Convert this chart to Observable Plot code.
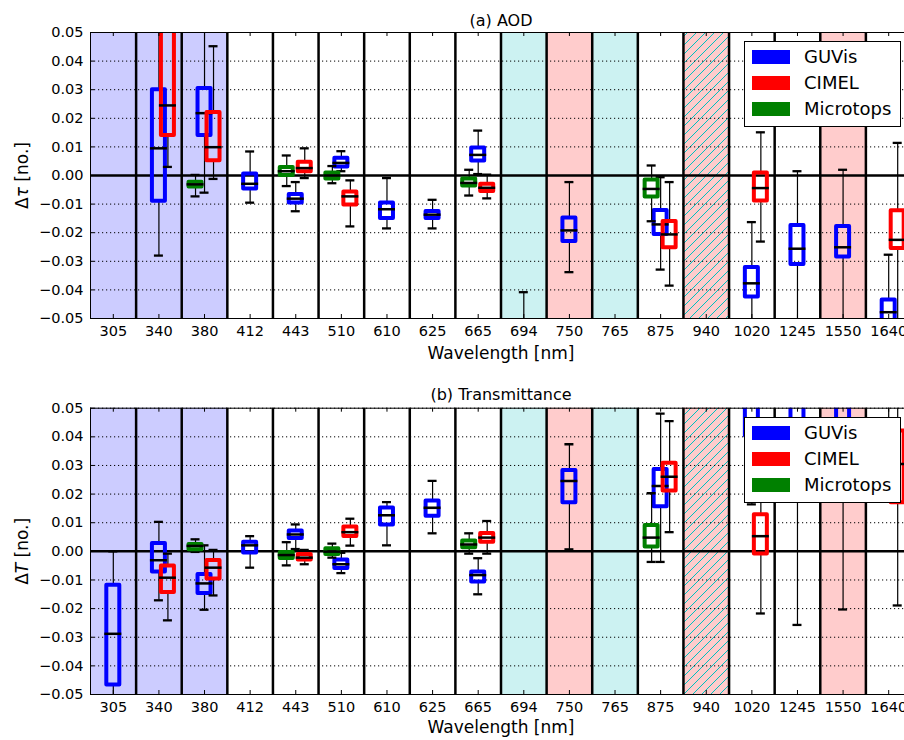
<!DOCTYPE html>
<html><head><meta charset="utf-8">
<script src="https://cdn.jsdelivr.net/npm/d3@7"></script>
<script src="https://cdn.jsdelivr.net/npm/@observablehq/plot@0.6"></script>
<style>
body{margin:0;background:#fff;font-family:"DejaVu Sans",sans-serif;}
#outer{position:relative;width:904px;height:740px;overflow:hidden;background:#fff;}
#inner{position:absolute;left:0;top:0;width:911px;height:740px;}
.panel{position:absolute;left:0;width:911px;}
.legend{position:absolute;left:744px;width:155px;height:84px;background:#fff;border:1px solid #000;font-family:"DejaVu Sans",sans-serif;font-size:18px;color:#000;}
.legend .patch{position:absolute;left:7px;width:38px;height:14px;}
.legend .lab{position:absolute;left:59px;white-space:nowrap;line-height:20px;}
</style></head><body>
<div id="outer"><div id="inner"></div></div>
<script>
// ---------- data ----------
const wavelengths = ["305","340","380","412","443","510","610","625","665","694","750","765","875","940","1020","1245","1550","1640"];
const yTicks = [-0.05,-0.04,-0.03,-0.02,-0.01,0,0.01,0.02,0.03,0.04,0.05];
const instruments = ["GUVis","CIMEL","Microtops"];
const instrumentColors = ["#0000ff","#ff0000","#008000"];
const shadeBlue = ["305","340","380"];
const shadeCyan = ["694","765"];
const shadeRed = ["750","940","1550"];
const hatched = ["940"];

// rows: [wavelength, whiskerLow, q1, median, q3, whiskerHigh]
const aodGUVis = [
  ["340",-0.028,-0.009,0.0095,0.030,0.065],
  ["380",-0.006,0.014,0.0218,0.0304,0.062],
  ["412",-0.0095,-0.0047,-0.0029,0.0005,0.0084],
  ["443",-0.0125,-0.0096,-0.0081,-0.0066,-0.0023],
  ["510",0.0015,0.003,0.0044,0.006,0.0085],
  ["610",-0.0185,-0.015,-0.0118,-0.0096,-0.0009],
  ["625",-0.0185,-0.015,-0.0137,-0.0126,-0.0085],
  ["665",0.0005,0.0051,0.0072,0.0096,0.0157],
  ["694",-0.085,-0.07,-0.062,-0.055,-0.0408],
  ["750",-0.0338,-0.0231,-0.0192,-0.0149,-0.0023],
  ["875",-0.0329,-0.0206,-0.0171,-0.0122,-0.0006],
  ["1020",-0.06,-0.0425,-0.0377,-0.0322,-0.0163],
  ["1245",-0.06,-0.0311,-0.0256,-0.0175,0.0015],
  ["1550",-0.06,-0.0285,-0.0251,-0.0178,0.002],
  ["1640",-0.07,-0.053,-0.0478,-0.0435,-0.0277]
];
const aodCIMEL = [
  ["340",0.003,0.014,0.0245,0.07,0.09],
  ["380",-0.0012,0.0052,0.0099,0.022,0.0452],
  ["443",-0.0009,0.0013,0.0026,0.0046,0.0095],
  ["510",-0.0178,-0.0103,-0.0073,-0.0058,-0.0017],
  ["665",-0.008,-0.0056,-0.0043,-0.0031,0.0003],
  ["875",-0.0385,-0.0253,-0.0206,-0.0161,-0.0023],
  ["1020",-0.0231,-0.0089,-0.0044,0.0009,0.0151],
  ["1640",-0.06,-0.0255,-0.0225,-0.0123,0.0114]
];
const aodMicrotops = [
  ["380",-0.0073,-0.004,-0.0031,-0.0024,0.0002],
  ["443",-0.0037,0.0,0.0015,0.0028,0.007],
  ["510",-0.0027,-0.0012,0.0,0.0009,0.0033],
  ["665",-0.007,-0.0037,-0.0026,-0.0012,0.002],
  ["875",-0.016,-0.0075,-0.0047,-0.0016,0.0035]
];
const trGUVis = [
  ["305",-0.06,-0.0467,-0.0288,-0.0118,0.0],
  ["340",-0.0171,-0.0072,-0.0031,0.0027,0.0103],
  ["380",-0.0204,-0.0147,-0.0112,-0.0081,0.0021],
  ["412",-0.0057,-0.0006,0.0021,0.0032,0.0053],
  ["443",0.0008,0.0045,0.0059,0.0071,0.0094],
  ["510",-0.0076,-0.006,-0.0045,-0.003,-0.0005],
  ["610",0.0021,0.0092,0.0126,0.0151,0.0172],
  ["625",0.0063,0.0123,0.0152,0.0176,0.0246],
  ["665",-0.015,-0.0107,-0.0083,-0.0072,-0.0024],
  ["750",0.0007,0.017,0.0246,0.0282,0.0374],
  ["875",-0.0037,0.0156,0.0228,0.0286,0.0481],
  ["1020",0.0164,0.0403,0.055,0.07,0.09],
  ["1245",-0.0257,0.035,0.052,0.07,0.09],
  ["1550",-0.0203,0.035,0.052,0.07,0.09],
  ["1640",0.03,0.055,0.06,0.07,0.09]
];
const trCIMEL = [
  ["340",-0.0241,-0.0144,-0.0092,-0.0051,-0.0008],
  ["380",-0.0154,-0.0097,-0.0057,-0.0032,0.0005],
  ["443",-0.0045,-0.003,-0.0022,-0.0011,0.0005],
  ["510",0.002,0.0052,0.0067,0.0085,0.0114],
  ["665",-0.0008,0.0032,0.0048,0.0062,0.0106],
  ["875",0.0067,0.0211,0.0261,0.0308,0.0455],
  ["1020",-0.0217,-0.0009,0.0053,0.0128,0.03],
  ["1640",-0.0189,0.017,0.0305,0.042,0.06]
];
const trMicrotops = [
  ["380",-0.0002,0.0006,0.0019,0.0024,0.0042],
  ["443",-0.0049,-0.0025,-0.0013,-0.0004,0.0032],
  ["510",-0.0022,-0.0011,-0.0001,0.0009,0.0027],
  ["665",-0.0008,0.0013,0.0024,0.0036,0.0063],
  ["875",-0.0037,0.0015,0.0048,0.009,0.0203]
];

// ---------- drawing ----------
const W = 911, ML = 90;
const offsets = [0, 9, -9];

function panel(cfg) {
  const bw = (W - ML) / wavelengths.length;
  const innerH = cfg.height - cfg.mt - cfg.mb;
  const boxIn = (bw - 13) / 2, medIn = (bw - 17) / 2, capIn = (bw - 9) / 2;
  const marks = [
    Plot.cell(shadeBlue, {x: d => d, fill: "#ccccff", inset: 0}),
    Plot.cell(shadeCyan, {x: d => d, fill: "#ccf2f2", inset: 0}),
    Plot.cell(shadeRed, {x: d => d, fill: "#ffcccc", inset: 0}),
    Plot.cell(hatched, {x: d => d, fill: `url(#${cfg.id}-hatch)`, inset: 0}),
    Plot.gridY(yTicks.filter(t => t !== 0), {stroke: "#000", strokeOpacity: 1, strokeWidth: 1, strokeDasharray: "1.2,2.8"}),
    Plot.ruleX(wavelengths.slice(1), {x: d => d, dx: -bw / 2, stroke: "#000", strokeWidth: 2.5}),
    Plot.ruleY([0], {stroke: "#000", strokeWidth: 2.5})
  ];
  cfg.series.forEach((rows, k) => {
    const dx = offsets[k], color = instrumentColors[k];
    const X = d => d[0];
    marks.push(
      Plot.ruleX(rows, {x: X, y1: d => d[1], y2: d => d[2], dx, stroke: "#000", strokeWidth: 1.2, clip: true}),
      Plot.ruleX(rows, {x: X, y1: d => d[4], y2: d => d[5], dx, stroke: "#000", strokeWidth: 1.2, clip: true}),
      Plot.tickY(rows, {x: X, y: d => d[1], dx, insetLeft: capIn, insetRight: capIn, stroke: "#000", strokeWidth: 2.3, clip: true}),
      Plot.tickY(rows, {x: X, y: d => d[5], dx, insetLeft: capIn, insetRight: capIn, stroke: "#000", strokeWidth: 2.3, clip: true}),
      Plot.barY(rows, {x: X, y1: d => d[2], y2: d => d[4], dx, insetLeft: boxIn, insetRight: boxIn, fill: "none", stroke: color, strokeWidth: 4, strokeLinejoin: "round", clip: true}),
      Plot.tickY(rows, {x: X, y: d => d[3], dx, insetLeft: medIn, insetRight: medIn, stroke: "#000", strokeWidth: 2.5, clip: true})
    );
  });
  marks.push(
    Plot.frame({stroke: "#000", strokeWidth: 1}),
    Plot.tickX(wavelengths, {x: d => d, insetTop: innerH - 4, stroke: "#000", strokeWidth: 1}),
    Plot.tickX(wavelengths, {x: d => d, insetBottom: innerH - 4, stroke: "#000", strokeWidth: 1}),
    Plot.tickY(yTicks, {y: d => d, insetRight: (W - ML) - 4, stroke: "#000", strokeWidth: 1}),
    Plot.axisY({ticks: yTicks, tickFormat: d3.format(".2f"), tickSize: 0, tickPadding: 7, label: null}),
    Plot.axisX({tickSize: 0, tickPadding: 7, label: null}),
    Plot.text([cfg.title], {frameAnchor: "top", dy: cfg.titleDy, fontSize: 16, lineAnchor: "middle"}),
    Plot.text(["Wavelength [nm]"], {frameAnchor: "bottom", dy: cfg.xlabDy, fontSize: 17, lineAnchor: "middle"}),
    Plot.text([cfg.ylabel], {frameAnchor: "left", dx: -68, rotate: -90, fontSize: 17, lineAnchor: "middle", textAnchor: "middle"})
  );
  const svg = Plot.plot({
    width: W, height: cfg.height,
    marginLeft: ML, marginRight: 0, marginTop: cfg.mt, marginBottom: cfg.mb,
    style: {fontFamily: "DejaVu Sans, sans-serif", fontSize: "14.5px", color: "#000", background: "transparent", maxWidth: "none", overflow: "visible"},
    x: {type: "band", domain: wavelengths, padding: 0, round: false},
    y: {domain: [-0.05, 0.05]},
    marks
  });
  const ns = "http://www.w3.org/2000/svg";
  const defs = document.createElementNS(ns, "defs");
  defs.innerHTML = `<pattern id="${cfg.id}-hatch" patternUnits="userSpaceOnUse" width="9" height="9">
    <rect width="9" height="9" fill="#ffcccc"/>
    <path d="M-1,1 l2,-2 M0,9 l9,-9 M8,10 l2,-2" stroke="#00bfbf" stroke-width="1"/></pattern>`;
  svg.insertBefore(defs, svg.firstChild);
  // italic math symbol in y label
  svg.querySelectorAll("text").forEach(t => {
    if (t.textContent === cfg.ylabel) {
      t.textContent = "";
      const a = document.createElementNS(ns, "tspan"); a.textContent = "Δ";
      const b = document.createElementNS(ns, "tspan"); b.textContent = cfg.ylabel.charAt(1); b.setAttribute("font-style", "italic");
      const c = document.createElementNS(ns, "tspan"); c.textContent = cfg.ylabel.slice(2);
      t.append(a, b, c);
    }
  });
  const div = document.createElement("div");
  div.className = "panel";
  div.style.top = cfg.top + "px";
  div.appendChild(svg);
  // legend
  const lg = document.createElement("div");
  lg.className = "legend";
  lg.style.top = cfg.legendTop + "px";
  instruments.forEach((name, i) => {
    const cy = 15 + i * 26.2;
    const p = document.createElement("div");
    p.className = "patch"; p.style.top = (cy - 7) + "px"; p.style.background = instrumentColors[i];
    const l = document.createElement("div");
    l.className = "lab"; l.style.top = (cy - 10) + "px"; l.textContent = name;
    lg.append(p, l);
  });
  div.appendChild(lg);
  document.getElementById("inner").appendChild(div);
}

panel({id: "a", top: 0, height: 370, mt: 32, mb: 52, title: "(a) AOD", titleDy: -12, xlabDy: 35,
  ylabel: "Δτ [no.]", series: [aodGUVis, aodCIMEL, aodMicrotops], legendTop: 41});
panel({id: "b", top: 370, height: 370, mt: 37.7, mb: 46, title: "(b) Transmittance", titleDy: -13, xlabDy: 33,
  ylabel: "ΔT [no.]", series: [trGUVis, trCIMEL, trMicrotops], legendTop: 47});
</script>
</body></html>
